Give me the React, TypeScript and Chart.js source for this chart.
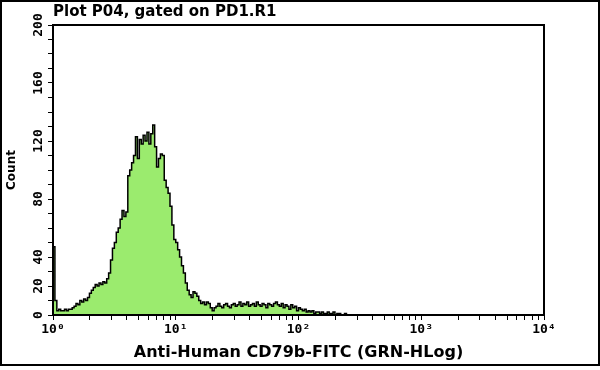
import { useEffect, useRef } from 'react';
import { Chart, registerables } from 'chart.js';

Chart.register(...registerables);

const TITLE = 'Plot P04, gated on PD1.R1';
const X_TITLE = 'Anti-Human CD79b-FITC (GRN-HLog)';
const Y_TITLE = 'Count';

// histogram channels: 64 channels per log decade, starting at 10^0
const CHANNELS_PER_DECADE = 64;
const COUNTS = [
  47, 10, 3, 4, 3, 3, 4, 3, 4, 4,
  5, 6, 8, 7, 10, 9, 11, 10, 12, 15,
  17, 19, 21, 20, 22, 21, 23, 22, 25, 29,
  38, 46, 50, 57, 60, 66, 72, 68, 71, 96,
  100, 105, 110, 123, 108, 121, 118, 124, 120, 126,
  118, 125, 131, 116, 102, 108, 111, 110, 93, 88,
  84, 75, 62, 52, 50, 45, 40, 34, 29, 22,
  17, 14, 12, 16, 15, 13, 10, 8, 9, 7,
  9, 8, 5, 3, 5, 6, 8, 6, 5, 7,
  8, 6, 5, 7, 8, 6, 7, 9, 6, 8,
  7, 9, 6, 7, 8, 6, 9, 7, 6, 8,
  7, 5, 8, 7, 6, 8, 9, 7, 6, 8,
  5, 7, 6, 4, 7, 5, 6, 3, 5, 4,
  3, 4, 2, 3, 2, 3, 1, 2, 2, 1,
  2, 1, 1, 2, 1, 1, 2, 0, 1, 1,
  0, 0, 1, 0,
];

const X_MIN = 1;
const X_MAX = 10000;
const X_DECADE_EXPONENTS = [0, 1, 2, 3, 4];
const SUPERSCRIPTS = ['\u2070', '\u00b9', '\u00b2', '\u00b3', '\u2074'];
const Y_MIN = 0;
const Y_MAX = 200;
const Y_STEP = 10;
const Y_LABELS = [0, 20, 40, 80, 120, 160, 200];

const FILL = 'rgb(155, 235, 110)';

export default function App() {
  const ref = useRef<HTMLCanvasElement>(null);

  useEffect(() => {
    document.body.style.margin = '0';
    const canvas = ref.current;
    if (!canvas) return;

    const points = COUNTS.map((c, i) => ({
      x: Math.pow(10, i / CHANNELS_PER_DECADE),
      y: c,
    }));

    const framePlugin = {
      id: 'frame',
      beforeDraw(chart: any) {
        const c = chart.ctx;
        c.save();
        c.fillStyle = '#fff';
        c.fillRect(0, 0, chart.width, chart.height);
        c.restore();
      },
      afterDraw(chart: any) {
        const c = chart.ctx;
        const a = chart.chartArea;
        c.save();
        c.strokeStyle = '#000';
        c.lineWidth = 2;
        c.strokeRect(1, 1, chart.width - 2, 364);
        c.strokeRect(a.left, a.top, a.right - a.left, a.bottom - a.top);
        c.restore();
      },
    };

    const chart = new Chart(canvas, {
      type: 'line',
      data: {
        datasets: [
          {
            data: points,
            borderColor: '#000',
            borderWidth: 1.5,
            backgroundColor: FILL,
            fill: 'origin',
            stepped: true,
            pointRadius: 0,
            tension: 0,
          },
        ],
      },
      options: {
        responsive: false,
        animation: false,
        events: [],
        layout: { padding: { left: 0, right: 56, top: 0, bottom: 0 } },
        plugins: {
          legend: { display: false },
          tooltip: { enabled: false },
          title: {
            display: true,
            text: TITLE,
            align: 'start',
            fullSize: false,
            color: '#000',
            font: { family: 'DejaVu Sans', weight: 'bold', size: 15 },
            padding: { top: 3, bottom: 4 },
          },
        },
        scales: {
          x: {
            type: 'logarithmic',
            min: X_MIN,
            max: X_MAX,
            afterBuildTicks: (s: any) => {
              const t: { value: number }[] = [];
              for (let d = 0; d < X_DECADE_EXPONENTS.length - 1; d++) {
                for (let k = 1; k <= 9; k++) t.push({ value: k * Math.pow(10, d) });
              }
              t.push({ value: X_MAX });
              s.ticks = t;
            },
            afterFit: (s: any) => {
              s.height = 55;
            },
            grid: { drawOnChartArea: false, drawTicks: true, tickLength: 5, color: '#000', lineWidth: 1 },
            border: { display: false },
            ticks: {
              autoSkip: false,
              minRotation: 0,
              maxRotation: 0,
              padding: 2,
              color: '#000',
              font: { family: 'DejaVu Sans Mono', weight: 'bold', size: 13 },
              callback: (v: any) => {
                const l = Math.log10(Number(v));
                const r = Math.round(l);
                if (Math.abs(l - r) < 1e-9 && X_DECADE_EXPONENTS.includes(r)) {
                  return '10' + SUPERSCRIPTS[r];
                }
                return '';
              },
            },
            title: {
              display: true,
              text: X_TITLE,
              color: '#000',
              font: { family: 'DejaVu Sans', weight: 'bold', size: 16 },
              padding: { top: 0, bottom: 8 },
            },
          },
          y: {
            type: 'linear',
            min: Y_MIN,
            max: Y_MAX,
            afterFit: (s: any) => {
              s.width = 53;
            },
            grid: { drawOnChartArea: false, drawTicks: true, tickLength: 5, color: '#000', lineWidth: 1 },
            border: { display: false },
            ticks: {
              stepSize: Y_STEP,
              autoSkip: false,
              minRotation: 90,
              maxRotation: 90,
              crossAlign: 'center',
              padding: -2,
              color: '#000',
              font: { family: 'DejaVu Sans Mono', weight: 'bold', size: 13 },
              callback: (v: any) => (Y_LABELS.includes(Number(v)) ? String(v) : ''),
            },
            title: {
              display: true,
              text: Y_TITLE,
              color: '#000',
              font: { family: 'DejaVu Sans', weight: 'bold', size: 12 },
              padding: { top: 5, bottom: 0 },
            },
          },
        },
      } as any,
      plugins: [framePlugin],
    });

    return () => chart.destroy();
  }, []);

  return <canvas ref={ref} width={600} height={370} style={{ display: 'block' }} />;
}
